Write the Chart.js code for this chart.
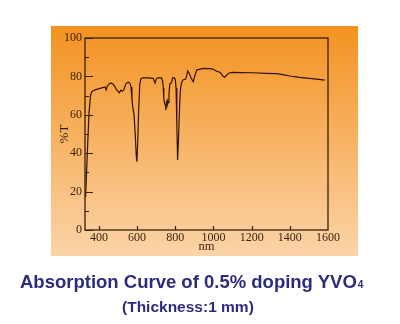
<!DOCTYPE html>
<html>
<head>
<meta charset="utf-8">
<script src="https://cdn.jsdelivr.net/npm/chart.js@4/dist/chart.umd.min.js"></script>
<style>
  html, body { margin: 0; padding: 0; background: #ffffff; width: 400px; height: 324px; overflow: hidden; }
  #wrap { position: relative; width: 400px; height: 324px; }
  canvas { position: absolute; left: 0; top: 0; }
  .t { position: absolute; white-space: nowrap; font-family: "Liberation Sans", Arial, sans-serif; font-weight: bold; color: #2c2c7e; line-height: 1; }
  #title { left: 20px; top: 273px; font-size: 18.5px; }
  #title span { font-size: 10px; vertical-align: 0px; margin-left: 1px; }
  #sub { left: 122px; top: 299px; font-size: 15.5px; }
</style>
</head>
<body>
<div id="wrap">
  <canvas id="c" width="400" height="324"></canvas>
  <div class="t" id="title">Absorption Curve of 0.5% doping YVO<span>4</span></div>
  <div class="t" id="sub">(Thickness:1 mm)</div>
</div>
<script>
// ---- data ----
const wavelengths = [330, 340, 348, 356, 362, 380, 397, 415, 432, 438, 444, 455, 463, 472, 479, 493, 507, 515, 522, 530, 542, 554, 563, 568, 573, 578, 584, 590, 596, 599, 603, 608, 614, 620, 630, 660, 685, 690, 694, 700, 707, 728, 734, 737, 740, 744, 748, 751, 754, 757, 760, 763, 767, 771, 777, 782, 786, 793, 800, 804, 808, 812, 816, 821, 826, 830, 836, 842, 855, 860, 865, 871, 877, 885, 894, 903, 912, 930, 946, 981, 1000, 1016, 1030, 1040, 1050, 1058, 1066, 1075, 1086, 1104, 1150, 1208, 1270, 1331, 1370, 1400, 1450, 1488, 1540, 1583];
const transmission = [17, 42, 61, 70, 72, 73, 73.5, 74, 74.5, 73, 75, 76.2, 76.6, 76, 75.4, 73, 71.5, 72.8, 72.3, 73, 76.4, 77, 76.4, 74.5, 68, 63.5, 60, 50, 38, 35.6, 45, 62, 76, 78.8, 79.2, 79.2, 79, 77.5, 76.6, 78.5, 79.2, 79.2, 77.5, 74, 68.5, 66, 65, 62.5, 66.5, 67.5, 65.5, 66.5, 71, 76, 76.4, 77.5, 79.3, 79.4, 78.5, 74, 55, 36.5, 45, 60, 72, 75.6, 77.5, 78.3, 78.6, 80.5, 82.8, 82, 80.6, 78.7, 77.2, 80.5, 83.3, 83.8, 84.2, 84, 83.7, 82.7, 82.3, 81.5, 80, 79.6, 80.3, 81.3, 81.9, 82.1, 82, 81.9, 81.6, 81.4, 80.8, 80.2, 79.5, 79.1, 78.6, 78.1];
const xTickValues = [400, 600, 800, 1000, 1200, 1400, 1600];
const yTickValues = [0, 20, 40, 60, 80, 100];
const yMinorTickValues = [10, 30, 50, 70, 90];
const xLabel = "nm";
const yLabel = "%T";

const points = wavelengths.map((w, i) => ({ x: w, y: transmission[i] }));
const axisColor = '#3a1f0c';

const decor = {
  id: 'decor',
  beforeDraw(chart) {
    const ctx = chart.ctx;
    const g = ctx.createLinearGradient(0, 26, 0, 256);
    g.addColorStop(0, '#f39220');
    g.addColorStop(0.5, '#f7b365');
    g.addColorStop(1, '#fbd4a8');
    ctx.save();
    ctx.fillStyle = g;
    ctx.fillRect(51, 26, 307, 230);
    ctx.restore();
  },
  afterDraw(chart) {
    const ctx = chart.ctx;
    const a = chart.chartArea;
    const xs = chart.scales.x, ys = chart.scales.y;
    ctx.save();
    ctx.strokeStyle = axisColor;
    ctx.lineWidth = 1.3;
    ctx.strokeRect(a.left, a.top, a.right - a.left, a.bottom - a.top);
    ctx.lineWidth = 1.2;
    ctx.beginPath();
    yTickValues.forEach(v => {
      const y = Math.round(ys.getPixelForValue(v)) + 0.5;
      ctx.moveTo(a.left, y); ctx.lineTo(a.left + 8, y);
    });
    yMinorTickValues.forEach(v => {
      const y = Math.round(ys.getPixelForValue(v)) + 0.5;
      ctx.moveTo(a.left, y); ctx.lineTo(a.left + 4, y);
    });
    xTickValues.forEach(v => {
      const x = Math.round(xs.getPixelForValue(v)) + 0.5;
      if (x < a.right - 2) { ctx.moveTo(x, a.bottom); ctx.lineTo(x, a.bottom - 4); }
    });
    ctx.stroke();
    ctx.restore();
  }
};

new Chart(document.getElementById('c'), {
  type: 'line',
  data: {
    datasets: [{
      data: points,
      borderColor: '#341400',
      borderWidth: 1.2,
      pointRadius: 0,
      tension: 0,
      fill: false
    }]
  },
  options: {
    responsive: false,
    animation: false,
    devicePixelRatio: 1,
    layout: { padding: { left: 0, top: 38, right: 72, bottom: 68 } },
    plugins: { legend: { display: false }, tooltip: { enabled: false } },
    scales: {
      x: {
        type: 'linear',
        min: 327,
        max: 1600,
        afterBuildTicks: s => { s.ticks = xTickValues.map(v => ({ value: v })); },
        afterFit: s => { s.height = 26; },
        grid: { display: false, drawTicks: false },
        border: { display: false },
        ticks: {
          padding: 1,
          color: axisColor,
          maxRotation: 0,
          autoSkip: false,
          callback: v => String(v),
          font: { family: '"Liberation Serif", "Times New Roman", serif', size: 12 }
        },
        title: {
          display: true,
          text: xLabel,
          color: axisColor,
          padding: { top: 0, bottom: 3 },
          font: { family: '"Liberation Serif", "Times New Roman", serif', size: 12.5, lineHeight: 1 }
        }
      },
      y: {
        min: 0,
        max: 100,
        afterBuildTicks: s => { s.ticks = yTickValues.map(v => ({ value: v })); },
        afterFit: s => { s.width = 85; },
        grid: { display: false, drawTicks: false },
        border: { display: false },
        ticks: {
          padding: 3,
          color: axisColor,
          callback: v => String(v),
          font: { family: '"Liberation Serif", "Times New Roman", serif', size: 12 }
        },
        title: {
          display: true,
          text: yLabel,
          color: axisColor,
          padding: { top: 58.5, bottom: 0 },
          font: { family: '"Liberation Serif", "Times New Roman", serif', size: 13, lineHeight: 1 }
        }
      }
    }
  },
  plugins: [decor]
});
</script>
</body>
</html>
